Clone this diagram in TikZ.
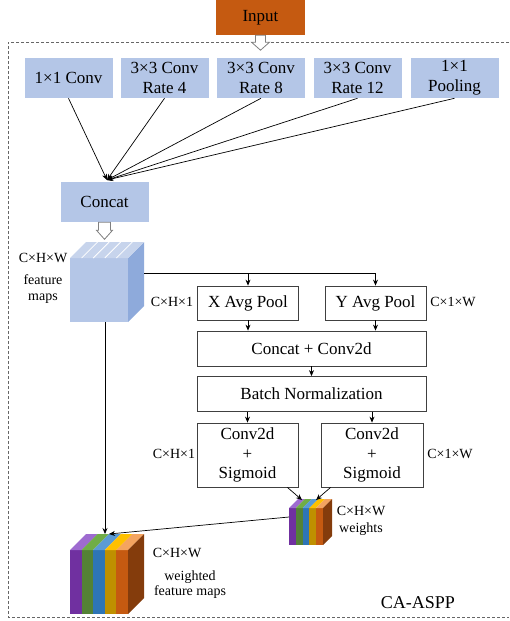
\documentclass[tikz,border=0pt]{standalone}
\usepackage{fontspec}
\setmainfont{Liberation Serif}
\usetikzlibrary{arrows.meta}
\definecolor{inorg}{HTML}{C55A11}
\definecolor{lblue}{HTML}{B4C6E7}
\definecolor{mblue}{HTML}{8EAADB}
\definecolor{tblue}{HTML}{C7D4EC}
\definecolor{cpur}{HTML}{7030A0}
\definecolor{cgrn}{HTML}{548235}
\definecolor{cblu}{HTML}{2E75B6}
\definecolor{cgld}{HTML}{BF9000}
\definecolor{corg}{HTML}{C55A11}
\definecolor{cbrn}{HTML}{843C0C}
\definecolor{lpur}{HTML}{9E6BD0}
\definecolor{lgrn}{HTML}{70AD47}
\definecolor{lblu}{HTML}{5B9BD5}
\definecolor{lgld}{HTML}{FFC000}
\definecolor{lorg}{HTML}{F4A460}
\newcommand{\mycube}[5]{%
 \foreach \fc/\tc [count=\i from 0] in {cpur/lpur,cgrn/lgrn,cblu/lblu,cgld/lgld,corg/lorg}{%
   \fill[\fc] ({#1+\i*#3/5},{#2}) rectangle ({#1+(\i+1)*#3/5},{#2+#4});
   \fill[\tc] ({#1+\i*#3/5},{#2}) -- ({#1+(\i+1)*#3/5},{#2}) -- ({#1+(\i+1)*#3/5+#5},{#2-#5}) -- ({#1+\i*#3/5+#5},{#2-#5}) -- cycle;
 }
 \fill[cbrn] ({#1+#3},{#2}) -- ({#1+#3+#5},{#2-#5}) -- ({#1+#3+#5},{#2+#4-#5}) -- ({#1+#3},{#2+#4}) -- cycle;
}
\begin{document}
\begin{tikzpicture}[x=1pt,y=-1pt,
 bluebox/.style={fill=lblue, draw=white, line width=0.6pt, minimum width=89pt, minimum height=41pt, inner sep=0pt, align=center, font=\fontsize{17}{20}\selectfont},
 wbox/.style={draw=black!75, line width=0.8pt, fill=white, inner sep=0pt, align=center, font=\fontsize{17}{19.5}\selectfont},
 lab/.style={font=\fontsize{14}{15}\selectfont, inner sep=0pt, align=center},
 arr/.style={-{Stealth[length=6pt,width=5pt]}, line width=0.7pt},
 hollow/.style={draw=gray, fill=white, line width=0.8pt}]
\useasboundingbox (0,0) rectangle (509,621);
% frame
\draw[dash pattern=on 3pt off 2pt, black!60, line width=0.7pt] (509,42) -- (8,42) -- (8,617) -- (509,617);
% input
\node[fill=inorg, minimum width=89pt, minimum height=35pt, inner sep=0pt, font=\fontsize{17}{20}\selectfont] (input) at (260.5,17.5) {Input};
\draw[hollow] (input.south) ++(-5,0) -- ++(10,0) -- ++(0,7) -- ++(4,0) -- ++(-9,8) -- ++(-9,-8) -- ++(4,0) -- cycle;
% top boxes
\node[bluebox] (b1) at (68.5,77.5) {1×1 Conv};
\node[bluebox] (b2) at (164.5,77.5) {3×3 Conv\\Rate 4};
\node[bluebox] (b3) at (261,77.5) {3×3 Conv\\Rate 8};
\node[bluebox] (b4) at (357.5,77.5) {3×3 Conv\\Rate 12};
\node[bluebox] (b5) at (454.5,77.5) {1×1\\Pooling};
\node[bluebox] (concat) at (104.5,201.5) {Concat};
\coordinate (cin) at (107,180);
\foreach \b in {b1,b2,b3,b4,b5} \draw[arr] (\b.south) -- (cin);
\draw[hollow] (concat.south) ++(-6,0) -- ++(12,0) -- ++(0,8) -- ++(2,0) -- ++(-8,9) -- ++(-8,-9) -- ++(2,0) -- cycle;
% feature cube
\fill[lblue] (70,258) rectangle (128,322);
\fill[mblue] (128,258) -- (144,242) -- (144,306) -- (128,322) -- cycle;
\fill[tblue] (70,258) -- (128,258) -- (144,242) -- (86,242) -- cycle;
\foreach \k in {1,...,4} \draw[white, line width=0.8pt] ({70+\k*58/5},258) -- ({86+\k*58/5},242);
\coordinate (fmr) at (144,273);
\coordinate (fmb) at (105,322);
\node[lab] (l1) at (43,258) {C×H×W};
\node[lab] (l2) at (43,289.5) {feature\\[1pt]maps};
% CA branch
\node[wbox, minimum width=101pt, minimum height=34pt] (xpool) at (248,303) {X Avg Pool};
\node[wbox, minimum width=101pt, minimum height=34pt] (ypool) at (375.5,303) {Y Avg Pool};
\node[wbox, minimum width=229pt, minimum height=35pt] (cc) at (311.5,348.5) {Concat + Conv2d};
\node[wbox, minimum width=229pt, minimum height=35pt] (bn) at (311.5,394) {Batch Normalization};
\node[wbox, minimum width=101pt, minimum height=64pt] (lconv) at (247.5,455) {Conv2d\\+\\Sigmoid};
\node[wbox, minimum width=102pt, minimum height=64pt] (rconv) at (372,455) {Conv2d\\+\\Sigmoid};
\node[lab] (l3) at (172,302) {C×H×1};
\node[lab] (l4) at (453,302) {C×1×W};
\node[lab] (l5) at (174,454) {C×H×1};
\node[lab] (l6) at (450,454) {C×1×W};
\draw[line width=0.7pt] (fmr) -- (ypool.north |- fmr);
\draw[arr] (xpool.north |- fmr) -- (xpool.north);
\draw[arr] (ypool.north |- fmr) -- (ypool.north);
\draw[arr] (xpool.south) -- (xpool.south |- cc.north);
\draw[arr] (ypool.south) -- (ypool.south |- cc.north);
\draw[arr] (cc.south) -- (bn.north);
\draw[arr] (bn.south -| lconv.north) -- (lconv.north);
\draw[arr] (bn.south -| rconv.north) -- (rconv.north);
% weights cube
\mycube{289}{508}{34}{37}{9}
\coordinate (wl) at (289,517);
\coordinate (wtl) at (302,500);
\coordinate (wtr) at (316,500);
\draw[arr] ([xshift=-11pt]lconv.south east) -- (wtl);
\draw[arr] ([xshift=10pt]rconv.south west) -- (wtr);
\node[lab] (l7) at (361,520.5) {C×H×W\\[2pt]weights};
% weighted feature maps
\mycube{70}{550}{58}{64}{16}
\coordinate (bt) at (105,534);
\coordinate (bt2) at (109,534);
\draw[arr] (fmb) -- (bt);
\draw[arr] (wl) -- (bt2);
\node[lab] (l8) at (177,553) {C×H×W};
\node[lab] (l9) at (190,584.5) {weighted\\feature maps};
\node[font=\fontsize{18}{20}\selectfont, inner sep=0pt] (title) at (418,603) {CA-ASPP};
\end{tikzpicture}
\end{document}
